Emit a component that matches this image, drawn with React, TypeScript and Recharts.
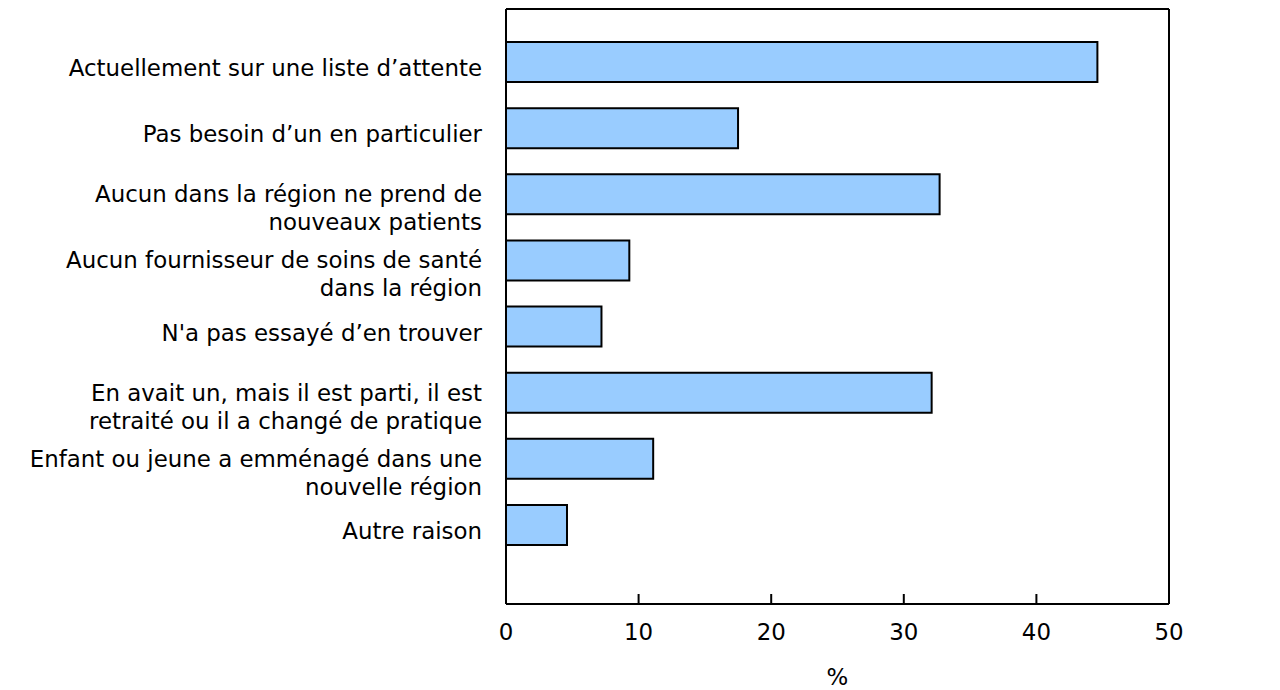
import { BarChart, Bar, XAxis, YAxis } from 'recharts';

const categories = [
  'Actuellement sur une liste d’attente',
  'Pas besoin d’un en particulier',
  'Aucun dans la région ne prend de\nnouveaux patients',
  'Aucun fournisseur de soins de santé\ndans la région',
  'N\'a pas essayé d’en trouver',
  'En avait un, mais il est parti, il est\nretraité ou il a changé de pratique',
  'Enfant ou jeune a emménagé dans une\nnouvelle région',
  'Autre raison',
];
const values = [44.6, 17.5, 32.7, 9.3, 7.2, 32.1, 11.1, 4.6];
const xTicks = [0, 10, 20, 30, 40, 50];

const data = categories.map((name, i) => ({ name, value: values[i] }));

const FONT = '"DejaVu Sans", Verdana, sans-serif';
const FS = 22.9;

function CategoryTick({ x, y, payload }: any) {
  const lines = String(payload.value).split('\n');
  const first = lines.length > 1 ? y + 8 : y + 14;
  return (
    <text x={x - 24} y={first} textAnchor="end" fill="#000" fontSize={FS} fontFamily={FONT}>
      {lines.map((l, i) => (
        <tspan key={i} x={x - 24} dy={i === 0 ? 0 : 28}>{l}</tspan>
      ))}
    </text>
  );
}

function ValueTick({ x, y, payload }: any) {
  return (
    <g>
      <line x1={x} y1={y} x2={x} y2={y - 10} stroke="#000" strokeWidth={2} />
      <text x={x} y={y + 36} textAnchor="middle" fill="#000" fontSize={FS} fontFamily={FONT}>
        {payload.value}
      </text>
    </g>
  );
}

export default function App() {
  return (
    <div style={{ position: 'absolute', left: 0, top: 0, background: '#fff' }}>
      <BarChart
        width={1280}
        height={690}
        data={data}
        layout="vertical"
        margin={{ top: 8, right: 110, bottom: 0, left: 0 }}
      >
        <XAxis
          type="number"
          domain={[0, 50]}
          ticks={xTicks}
          height={86}
          tickSize={0}
          tickMargin={0}
          tickLine={false}
          tick={<ValueTick />}
          axisLine={{ stroke: '#000', strokeWidth: 2 }}
          label={{ value: '%', position: 'insideBottom', offset: 5, fill: '#000', fontSize: FS, fontFamily: FONT }}
        />
        <XAxis
          xAxisId="top"
          orientation="top"
          type="number"
          domain={[0, 50]}
          height={1}
          tick={false}
          tickLine={false}
          axisLine={{ stroke: '#000', strokeWidth: 2 }}
        />
        <YAxis
          type="category"
          dataKey="name"
          width={506}
          tickSize={0}
          tickMargin={0}
          tickLine={false}
          interval={0}
          padding={{ top: 20, bottom: 46 }}
          tick={<CategoryTick />}
          axisLine={{ stroke: '#000', strokeWidth: 2 }}
        />
        <YAxis
          yAxisId="right"
          orientation="right"
          type="category"
          dataKey="name"
          width={1}
          tick={false}
          tickLine={false}
          axisLine={{ stroke: '#000', strokeWidth: 2 }}
        />
        <Bar
          dataKey="value"
          fill="#99ccff"
          stroke="#000"
          strokeWidth={2}
          barSize={40}
          isAnimationActive={false}
        />
      </BarChart>
    </div>
  );
}
